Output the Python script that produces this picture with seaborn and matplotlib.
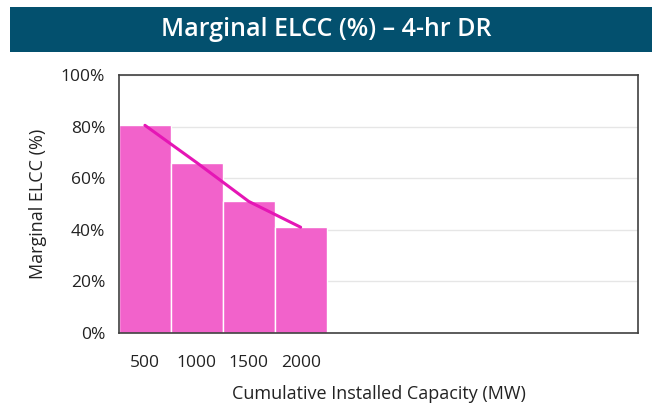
import matplotlib
matplotlib.use("Agg")
import matplotlib.pyplot as plt
import matplotlib.patches as mpatches
import seaborn as sns
import pandas as pd
from matplotlib.ticker import PercentFormatter

# data
capacity = ["500", "1000", "1500", "2000"]
elcc = [80.5, 66, 51, 41]
n_slots = 10  # axis runs on for empty slots to the right

sns.set_theme(style="white")
plt.rcParams["font.family"] = ["Open Sans", "DejaVu Sans"]

df = pd.DataFrame({"capacity": capacity, "elcc": elcc})

fig = plt.figure(figsize=(6.52, 4.03), dpi=100)
ax = fig.add_axes([0.1825, 0.1737, 0.796, 0.6402])

sns.barplot(data=df, x="capacity", y="elcc", color="#F262CB", saturation=1,
            width=1.0, edgecolor="white", linewidth=1, ax=ax, zorder=2)
sns.lineplot(x=list(range(len(capacity))), y=elcc, color="#E516B5",
             linewidth=2.2, ax=ax, zorder=3)

ax.set_xlim(-0.5, n_slots - 0.5)
ax.set_ylim(0, 100)
ax.set_yticks(range(0, 101, 20))
ax.yaxis.set_major_formatter(PercentFormatter(decimals=0))
ax.grid(axis="y", color="#E6E6E6", linewidth=1, zorder=0)
ax.set_axisbelow(True)
for s in ax.spines.values():
    s.set_color("#404040")
    s.set_linewidth(1.2)

ax.tick_params(axis="both", labelsize=12.5, colors="#222222", length=0)
ax.tick_params(axis="x", pad=16)
ax.tick_params(axis="y", pad=10)
ax.set_xlabel("Cumulative Installed Capacity (MW)", fontsize=13, color="#222222", labelpad=10)
ax.set_ylabel("Marginal ELCC (%)", fontsize=13, color="#222222", labelpad=10)

# title banner
fig.patches.append(mpatches.Rectangle((0.0153, 0.871), 0.9847, 0.1117,
                                      transform=fig.transFigure,
                                      facecolor="#03506E", edgecolor="none"))
fig.text(0.5, 0.927, "Marginal ELCC (%) \u2013 4-hr DR", color="white",
         fontsize=18, fontweight="semibold", ha="center", va="center")

fig.savefig("out.png", dpi=100)
